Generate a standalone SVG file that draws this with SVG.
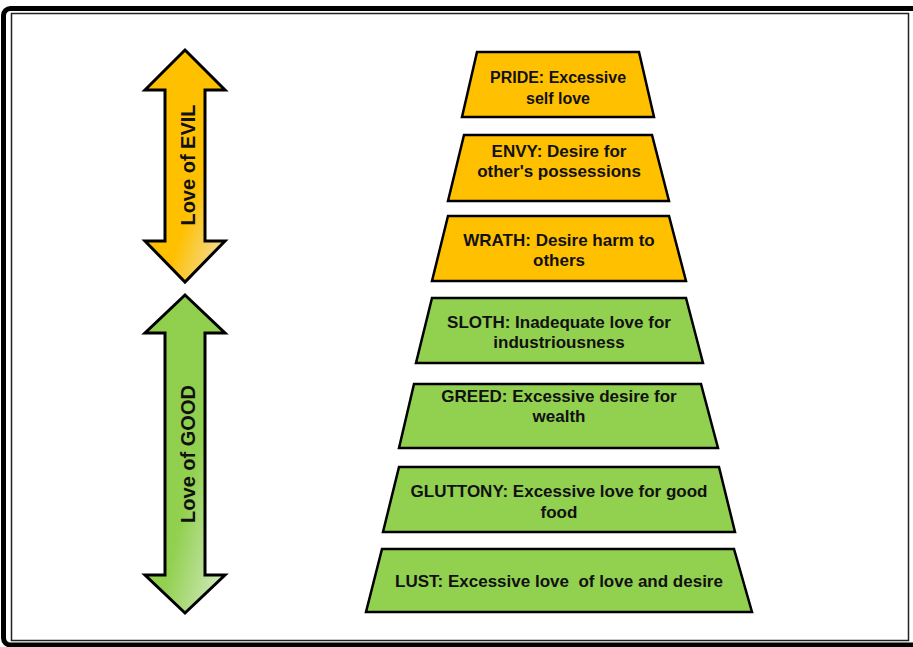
<svg xmlns="http://www.w3.org/2000/svg" width="913" height="647" viewBox="0 0 913 647">
  <style>
    .frame-outer { fill: none; stroke: #000; stroke-width: 5; }
    .frame-inner { fill: none; stroke: #222; stroke-width: 1.5; }
    .evil { fill: #FFC000; stroke: #000; stroke-width: 2.5; stroke-linejoin: miter; }
    .good { fill: #92D050; stroke: #000; stroke-width: 2.5; stroke-linejoin: miter; }
    .arrow { stroke: #000; stroke-width: 3; stroke-linejoin: miter; }
    .lbl { font-family: "Liberation Sans", Arial, sans-serif; font-weight: bold; font-size: 17px; fill: #111; text-anchor: middle; }
    .sm { font-size: 16px; }
    .side { font-family: "Liberation Sans", Arial, sans-serif; font-weight: bold; font-size: 20px; fill: #111; text-anchor: middle; }
  </style>
  <defs>
    <linearGradient id="gEvil" x1="0" y1="0" x2="1" y2="1">
      <stop offset="0" stop-color="#FFC000"/>
      <stop offset="0.62" stop-color="#FFC000"/>
      <stop offset="1" stop-color="#EFE2BE"/>
    </linearGradient>
    <linearGradient id="gGood" x1="0" y1="0" x2="1" y2="1">
      <stop offset="0" stop-color="#8ECF4C"/>
      <stop offset="0.58" stop-color="#92D050"/>
      <stop offset="1" stop-color="#DCEDD0"/>
    </linearGradient>
  </defs>

  <rect class="frame-outer" x="3.5" y="8.5" width="916" height="636.5" rx="7"/>
  <rect class="frame-inner" x="11.5" y="13.5" width="897" height="627"/>

  <g id="arrow-evil">
    <path class="arrow" fill="url(#gEvil)" d="M185,50 L225,90 L205,90 L205,241 L225,241 L185,282 L145,241 L165,241 L165,90 L145,90 Z"/>
    <text class="side" transform="translate(195,165) rotate(-90)">Love of EVIL</text>
  </g>

  <g id="arrow-good">
    <path class="arrow" fill="url(#gGood)" d="M185,295 L225,333 L205,333 L205,575 L225,575 L185,613 L145,575 L165,575 L165,333 L145,333 Z"/>
    <text class="side" transform="translate(195,454) rotate(-90)">Love of GOOD</text>
  </g>

  <g id="pride">
    <polygon class="evil" points="477,52 639,52 654,117 462,117"/>
    <text class="lbl sm" x="558" y="83">PRIDE: Excessive</text>
    <text class="lbl sm" x="558" y="103.5">self love</text>
  </g>

  <g id="envy">
    <polygon class="evil" points="464,135 652,135 669,201 448,201"/>
    <text class="lbl" x="559" y="156.5">ENVY: Desire for</text>
    <text class="lbl" x="559" y="176.5">other's possessions</text>
  </g>

  <g id="wrath">
    <polygon class="evil" points="448,216 669,216 686,281 432,281"/>
    <text class="lbl" x="559" y="246">WRATH: Desire harm to</text>
    <text class="lbl" x="559" y="266">others</text>
  </g>

  <g id="sloth">
    <polygon class="good" points="432,298 686,298 703,363 416,363"/>
    <text class="lbl" x="559" y="327.5">SLOTH: Inadequate love for</text>
    <text class="lbl" x="559" y="348">industriousness</text>
  </g>

  <g id="greed">
    <polygon class="good" points="414,384 701,384 718,448 399,448"/>
    <text class="lbl" x="559" y="401.5">GREED: Excessive desire for</text>
    <text class="lbl" x="559" y="422">wealth</text>
  </g>

  <g id="gluttony">
    <polygon class="good" points="399,467 719,467 735,532 383,532"/>
    <text class="lbl" x="559" y="497">GLUTTONY: Excessive love for good</text>
    <text class="lbl" x="559" y="517.5">food</text>
  </g>

  <g id="lust">
    <polygon class="good" points="382,549 734,549 752,612 366,612"/>
    <text class="lbl" x="559" y="586.5" xml:space="preserve" style="white-space:pre">LUST: Excessive love  of love and desire</text>
  </g>

  <g id="connectors"/>
</svg>
